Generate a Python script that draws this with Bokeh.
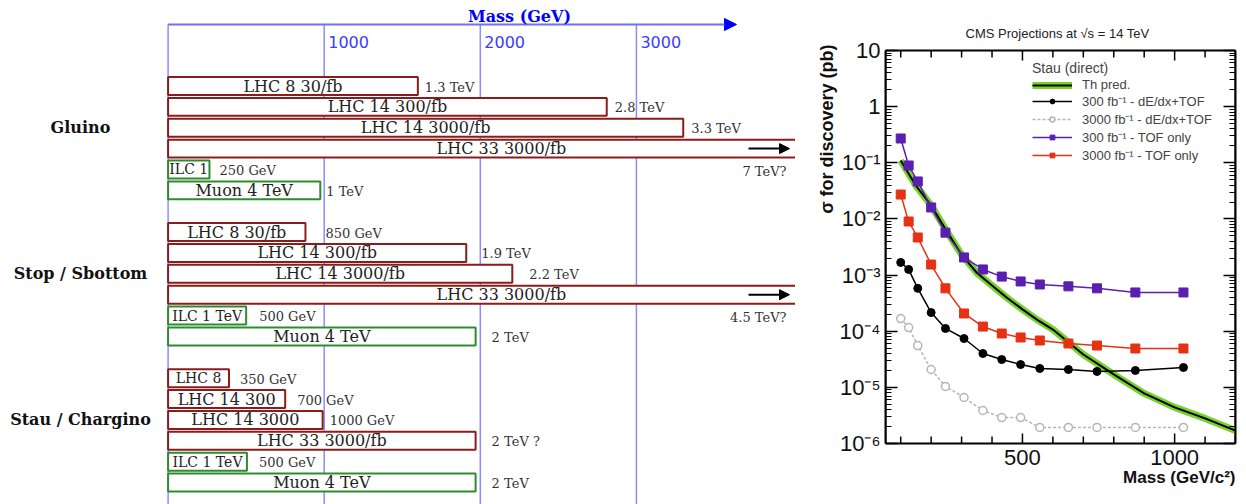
import numpy as np
from bokeh.plotting import figure
from bokeh.layouts import row
from bokeh.models import (Range1d, Arrow, NormalHead, Label, LogAxis, Title,
                          FixedTicker, CustomJSTickFormatter, Legend, LegendItem)
from bokeh.core.properties import value
from bokeh.embed import file_html
from bokeh.resources import INLINE

# ------------------------------------------------------------------ left panel data
groups = ["Gluino", "Stop / Sbottom", "Stau / Chargino"]

gluino_names = ["LHC 8 30/fb", "LHC 14 300/fb", "LHC 14 3000/fb", "LHC 33 3000/fb", "ILC 1", "Muon 4 TeV"]
gluino_reach = [1600, 2810, 3300, 4270, 265, 975]          # GeV (drawn bar length)
gluino_text = ["1.3 TeV", "2.8 TeV", "3.3 TeV", "7 TeV?", "250 GeV", "1 TeV"]

stop_names = ["LHC 8 30/fb", "LHC 14 300/fb", "LHC 14 3000/fb", "LHC 33 3000/fb", "ILC 1 TeV", "Muon 4 TeV"]
stop_reach = [880, 1910, 2205, 4270, 500, 1970]
stop_text = ["850 GeV", "1.9 TeV", "2.2 TeV", "4.5 TeV?", "500 GeV", "2 TeV"]

stau_names = ["LHC 8", "LHC 14 300", "LHC 14 3000", "LHC 33 3000/fb", "ILC 1 TeV", "Muon 4 TeV"]
stau_reach = [390, 750, 990, 1970, 505, 1970]
stau_text = ["350 GeV", "700 GeV", "1000 GeV", "2 TeV ?", "500 GeV", "2 TeV"]

mass_ticks = [1000, 2000, 3000]

# ------------------------------------------------------------------ right panel data
stau_mass = [100, 126, 156, 200, 247, 308, 370, 432, 494, 557, 651, 745, 871, 1029]
tof_300 = [0.271, 0.0895, 0.0465, 0.016, 0.0057, 0.00206, 0.00126, 0.00094, 0.00077,
           0.00068, 0.00063, 0.00058, 0.00049, 0.00049]
tof_3000 = [0.0272, 0.0090, 0.00467, 0.00154, 0.00058, 0.000207, 0.000121, 0.000091,
            7.73e-5, 6.83e-5, 6.04e-5, 5.56e-5, 4.92e-5, 4.92e-5]
dedx_300 = [0.00168, 0.00126, 0.00058, 0.000215, 0.000112, 7.41e-5, 4.01e-5, 3.13e-5,
            2.55e-5, 2.17e-5, 2.08e-5, 1.92e-5, 2.00e-5, 2.26e-5]
dedx_3000 = [0.000168, 0.000116, 5.56e-5, 2.08e-5, 1.04e-5, 6.6e-6, 3.87e-6, 2.9e-6,
             2.9e-6, 1.93e-6, 1.93e-6, 1.93e-6, 1.93e-6, 1.93e-6]
th_mass = [100, 150, 200, 250, 300, 350, 400, 450, 500, 550, 600, 700, 800, 900, 1000, 1100, 1200]
th_xsec = [0.11, 0.039, 0.0174, 0.0062, 0.0023, 0.0011, 0.00065, 0.00039, 0.000245, 0.000158,
           0.000107, 3.85e-5, 1.7e-5, 7.8e-6, 4.4e-6, 2.8e-6, 1.7e-6]
x_lim = (50, 1200)
y_lim = (1e-6, 10)
x_major = [500, 1000]
x_minor = [m for m in range(100, 1300, 100) if m not in x_major]
y_major = [10.0 ** e for e in range(-6, 2)]
y_minor = [m * 10.0 ** e for e in range(-6, 1) for m in range(2, 10)]

# ------------------------------------------------------------------ layout / style
SERIF_NAME = "DejaVu Serif"
SERIF = value(SERIF_NAME)
SANS_NAME = "Liberation Sans"
LHC_COL = "#8b1c1c"
LC_COL = "#2e8b2e"
AX_BLUE = "#8c8cff"
H = 504
LEFT_W = 795
RIGHT_W = 1246 - LEFT_W

# pixel <-> data mapping of the left panel
PX0, PXS = 167.6, 0.1561      # x_px = PX0 + PXS * mass
RY0, RYS = 85.5, 20.87        # y_px = RY0 + RYS * row
def mass_at(px): return (px - PX0) / PXS
def row_at(py): return (py - RY0) / RYS
XR = Range1d(mass_at(0), mass_at(LEFT_W))
YR = Range1d(row_at(H), row_at(0))

label_gap_px = [[7, 8, 8, 0, 10, 6], [20, 15, 17, 0, 13, 16], [11, 12, 7, 16, 12, 16]]
name_size = [[16, 16, 16, 16, 14, 16], [16, 16, 16, 16, 14, 16], [14, 16, 16, 16, 14, 16]]

p1 = figure(width=LEFT_W, height=H, x_range=XR, y_range=YR, output_backend="svg",
            toolbar_location=None, x_axis_location=None, y_axis_location=None, min_border=0)
p1.grid.visible = False
p1.outline_line_color = None

axis_row = row_at(24)
vx = [0] + mass_ticks
p1.segment(x0=vx, x1=vx, y0=[axis_row] * len(vx), y1=[YR.start + 1] * len(vx),
           line_color=AX_BLUE, line_width=1.5)
p1.add_layout(Arrow(end=NormalHead(size=12, fill_color="#0000ff", line_color="#0000ff"),
                    x_start=0, y_start=axis_row, x_end=mass_at(736), y_end=axis_row,
                    line_color="#6f6fff", line_width=2))
p1.text(x=mass_ticks, y=[row_at(41)] * 3, text=[str(t) for t in mass_ticks], x_offset=4,
        text_font=value("DejaVu Sans"), text_font_size="16px", text_color="#3b3bff",
        text_baseline="middle", text_align="left")
p1.add_layout(Label(x=mass_at(519), y=row_at(16), text="Mass (GeV)", text_font=SERIF_NAME,
                    text_font_size="16px", text_font_style="bold", text_color="#0000ff",
                    text_align="center", text_baseline="middle"))

all_names = [gluino_names, stop_names, stau_names]
all_reach = [gluino_reach, stop_reach, stau_reach]
all_text = [gluino_text, stop_text, stau_text]
xmax = XR.end
for g in range(3):
    rows = [g * 7 + i for i in range(6)]
    reach = all_reach[g]
    cols = [LHC_COL if n.startswith("LHC") else LC_COL for n in all_names[g]]
    p1.quad(left=[0] * 6, right=reach, top=[r - 0.43 for r in rows], bottom=[r + 0.43 for r in rows],
            fill_color="white", line_color=cols, line_width=2)
    for i in range(6):
        p1.text(x=[reach[i] / 2], y=[rows[i]], text=[all_names[g][i]], text_font=SERIF,
                text_font_size=f"{name_size[g][i]}px", text_color="#222222",
                text_align="center", text_baseline="middle")
        if reach[i] > xmax:
            p1.add_layout(Arrow(end=NormalHead(size=10, fill_color="black", line_color="black"),
                                x_start=mass_at(748), y_start=rows[i], x_end=mass_at(789), y_end=rows[i],
                                line_color="black", line_width=2))
            p1.text(x=[mass_at(786)], y=[rows[i] + 1.1], text=[all_text[g][i]], text_font=SERIF,
                    text_font_size="13px", text_color="#333333", text_align="right",
                    text_baseline="middle")
        else:
            p1.text(x=[reach[i]], y=[rows[i]], text=[all_text[g][i]], x_offset=label_gap_px[g][i],
                    y_offset=1, text_font=SERIF, text_font_size="13px", text_color="#333333",
                    text_align="left", text_baseline="middle")
    p1.add_layout(Label(x=mass_at(80), y=g * 7 + 2.0, text=groups[g], text_font=SERIF_NAME,
                        text_font_size="16px", text_font_style="bold", text_color="#111111",
                        text_align="center", text_baseline="middle"))

# ------------------------------------------------------------------ right panel
FR_L, FR_R, FR_T, FR_B = 885, 1235, 50, 443          # CMS frame, page pixels
DEC = (FR_B - FR_T) / 7.0
def sy(py): return 10 ** (1 - (py - FR_T) / DEC)
def sx(px): return x_lim[0] + (px - FR_L) * (x_lim[1] - x_lim[0]) / (FR_R - FR_L)

p2 = figure(width=RIGHT_W, height=H, x_range=Range1d(*x_lim), y_range=Range1d(sy(H), sy(0)),
            y_axis_type="log", output_backend="svg", toolbar_location=None,
            x_axis_location=None, y_axis_location="left",
            min_border_left=FR_L - LEFT_W, min_border_right=1246 - FR_R,
            min_border_top=0, min_border_bottom=0)
p2.grid.visible = False
p2.outline_line_color = None

sup_fmt = CustomJSTickFormatter(code=r"""
const e = Math.round(Math.log10(tick));
if (e === 0) return "1";
if (e === 1) return "10";
const sup = {"-": "\u207B", "0": "\u2070", "1": "\u00B9", "2": "\u00B2", "3": "\u00B3",
             "4": "\u2074", "5": "\u2075", "6": "\u2076", "7": "\u2077", "8": "\u2078", "9": "\u2079"};
return "10" + String(e).split("").map(c => sup[c]).join("");
""")

def style_yaxis(ax, labels=True):
    ax.ticker = FixedTicker(ticks=y_major, minor_ticks=y_minor)
    ax.bounds = y_lim
    ax.major_tick_in = 12
    ax.major_tick_out = 0
    ax.minor_tick_in = 6
    ax.minor_tick_out = 0
    ax.axis_line_width = 2
    ax.major_tick_line_width = 1.5
    ax.minor_tick_line_width = 1.2
    if labels:
        ax.formatter = sup_fmt
        ax.major_label_text_font = SANS_NAME
        ax.major_label_text_font_size = "22px"
        ax.major_label_text_color = "#111111"
        ax.major_label_standoff = 5
    else:
        ax.formatter = CustomJSTickFormatter(code="return '';")
        ax.major_label_text_font_size = "0px"
        ax.major_label_standoff = 0

style_yaxis(p2.yaxis[0])
right_ax = LogAxis()
style_yaxis(right_ax, labels=False)
p2.add_layout(right_ax, "right")

# frame box and horizontal-axis ticks (drawn in the frame, through the scales)
p2.quad(left=[x_lim[0]], right=[x_lim[1]], bottom=[y_lim[0]], top=[y_lim[1]],
        fill_color=None, line_color="black", line_width=2)
for ticks, ln in ((x_major, 10), (x_minor, 7)):
    n = len(ticks)
    p2.ray(x=ticks, y=[y_lim[0]] * n, length=ln, length_units="screen", angle=np.pi / 2,
           line_color="black", line_width=1.5)
    p2.ray(x=ticks, y=[y_lim[1]] * n, length=ln, length_units="screen", angle=-np.pi / 2,
           line_color="black", line_width=1.5)
p2.text(x=x_major, y=[y_lim[0]] * len(x_major), text=[str(t) for t in x_major], y_offset=6,
        text_font=value(SANS_NAME), text_font_size="22px", text_color="#111111",
        text_align="center", text_baseline="top")

GREEN = "#76d32a"
PURPLE = "#5a1fb0"
RED = "#e63214"
GRAY = "#b5b5b5"

th_band = p2.line(th_mass, th_xsec, line_color=GREEN, line_width=7)
th_line = p2.line(th_mass, th_xsec, line_color="black", line_width=2)

g_line = p2.line(stau_mass, dedx_3000, line_color=GRAY, line_width=1.5, line_dash="3 2")
g_pts = p2.scatter(stau_mass, dedx_3000, marker="circle", size=8, fill_color="white",
                   line_color=GRAY, line_width=1.5)
k_line = p2.line(stau_mass, dedx_300, line_color="black", line_width=1.5)
k_pts = p2.scatter(stau_mass, dedx_300, marker="circle", size=8, fill_color="black", line_color="black")
r_line = p2.line(stau_mass, tof_3000, line_color=RED, line_width=1.5)
r_pts = p2.scatter(stau_mass, tof_3000, marker="square", size=9, fill_color=RED, line_color=RED)
pu_line = p2.line(stau_mass, tof_300, line_color=PURPLE, line_width=1.5)
pu_pts = p2.scatter(stau_mass, tof_300, marker="square", size=9, fill_color=PURPLE, line_color=PURPLE)

# legend: location is the bottom-left corner of the box, in pixels from the panel's bottom-left
LEG_BOTTOM = 164
legend = Legend(items=[
    LegendItem(label="Th pred.", renderers=[th_band, th_line]),
    LegendItem(label="300 fb\u207B\u00B9 - dE/dx+TOF", renderers=[k_line, k_pts]),
    LegendItem(label="3000 fb\u207B\u00B9 - dE/dx+TOF", renderers=[g_line, g_pts]),
    LegendItem(label="300 fb\u207B\u00B9 - TOF only", renderers=[pu_line, pu_pts]),
    LegendItem(label="3000 fb\u207B\u00B9 - TOF only", renderers=[r_line, r_pts]),
], location=(1032 - FR_L, H - LEG_BOTTOM), title="Stau (direct)")
legend.title_text_font = SANS_NAME
legend.title_text_font_size = "14px"
legend.title_text_font_style = "normal"
legend.title_standoff = 1
legend.label_text_font = SANS_NAME
legend.label_text_font_size = "13px"
legend.glyph_width = 40
legend.glyph_height = 12
legend.label_height = 12
legend.spacing = 0
legend.padding = 2
legend.margin = 0
legend.label_standoff = 10
legend.border_line_color = None
legend.background_fill_alpha = 0
p2.add_layout(legend)

p2.add_layout(Label(x=sx(1057), y=sy(33), text="CMS Projections at \u221As = 14 TeV",
                    text_font=SANS_NAME, text_font_size="13px", text_color="#222222",
                    text_align="center", text_baseline="middle"))
p2.add_layout(Label(x=x_lim[1], y=sy(477), text="Mass (GeV/c\u00B2)",
                    text_font=SANS_NAME, text_font_size="17px", text_font_style="bold",
                    text_color="#111111", text_align="right", text_baseline="middle"))
p2.add_layout(Title(text="\u03C3 for discovery (pb)", align="right", offset=44,
                    text_font=SANS_NAME, text_font_size="18px", text_font_style="bold",
                    text_color="#111111", standoff=0), "left")

layout = row(p1, p2)
with open("out.html", "w", encoding="utf-8") as f:
    f.write(file_html(layout, INLINE))
